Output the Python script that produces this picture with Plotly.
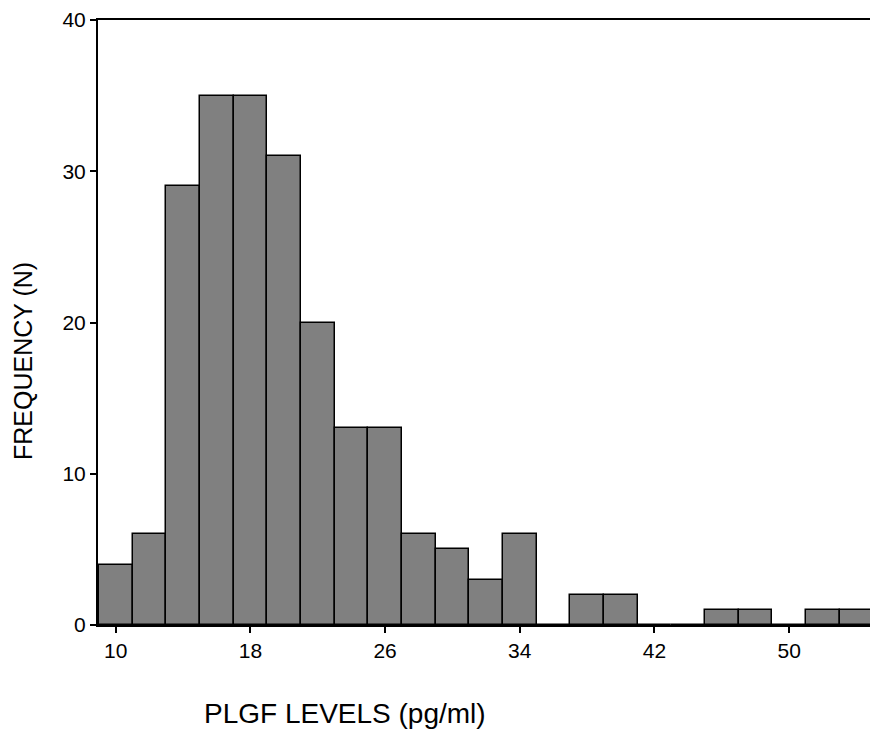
import plotly.graph_objects as go

bin_centers = [10, 12, 14, 16, 18, 20, 22, 24, 26, 28, 30, 32, 34, 36, 38, 40, 42, 44, 46, 48, 50, 52, 54]
counts = [4, 6, 29, 35, 35, 31, 20, 13, 13, 6, 5, 3, 6, 0, 2, 2, 0, 0, 1, 1, 0, 1, 1]
x_ticks = [10, 18, 26, 34, 42, 50]
y_ticks = [0, 10, 20, 30, 40]

fig = go.Figure(go.Bar(
    x=bin_centers, y=counts, width=2,
    marker=dict(color="#808080", line=dict(color="black", width=1.5)),
))

font = "Liberation Sans, Arial, sans-serif"
fig.update_layout(
    width=870, height=736,
    margin=dict(l=98, r=0, t=20, b=111),
    paper_bgcolor="white", plot_bgcolor="white",
    showlegend=False, bargap=0,
    font=dict(family=font, size=21, color="black"),
    xaxis=dict(range=[8.95, 54.8], tickvals=x_ticks, showline=True, linecolor="black",
               linewidth=2, mirror=True, ticks="outside", ticklen=6, tickwidth=1.5,
               tickcolor="black", showgrid=False, zeroline=False, tickfont=dict(size=21)),
    yaxis=dict(range=[0, 40], tickvals=y_ticks, showline=True, linecolor="black",
               linewidth=2, ticks="outside", ticklen=6, tickwidth=1.5, tickcolor="black",
               showgrid=False, zeroline=False, tickfont=dict(size=21)),
    annotations=[
        dict(text="PLGF LEVELS (pg/ml)", xref="paper", yref="paper", x=(345-98)/772,
             y=-(713-625)/605, xanchor="center", yanchor="middle", showarrow=False,
             font=dict(size=28, family=font)),
        dict(text="FREQUENCY (N)", xref="paper", yref="paper", x=-(98-23)/772,
             y=(625-361)/605, xanchor="center", yanchor="middle", showarrow=False,
             textangle=-90, font=dict(size=25, family=font)),
    ],
)
fig.write_html("out.html")
